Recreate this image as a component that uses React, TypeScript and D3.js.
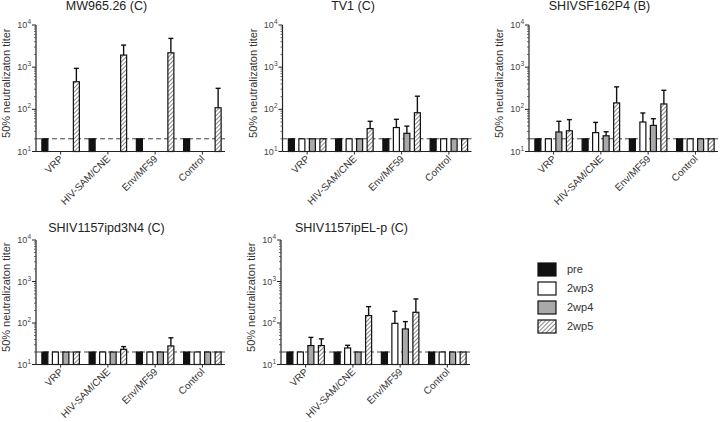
import React from "react";
import * as d3 from "d3";

const groups = ["VRP", "HIV-SAM/CNE", "Env/MF59", "Control"];
const seriesNames = ["pre", "2wp3", "2wp4", "2wp5"];
const yTickExps = [1, 2, 3, 4];
const cutoff = 20;
const yLabel = "50% neutralizaton titer";

// values[group][series]; null = not measured
const mwValues = [[20, null, null, 451], [20, null, null, 1935], [20, null, null, 2190], [20, null, null, 109]];
const mwErrors = [[null, null, null, 937], [null, null, null, 3340], [null, null, null, 4810], [null, null, null, 315]];

const tv1Values = [[20, 20, 20, 20], [20, 20, 20, 35], [20, 37, 27, 83], [20, 20, 20, 20]];
const tv1Errors = [[null, null, null, null], [null, null, null, 52], [null, 58, 40, 205], [null, null, null, null]];

const sf162Values = [[20, 20, 29, 31], [20, 28, 23.6, 142], [20, 50, 41.6, 134], [20, 20, 20, 20]];
const sf162Errors = [[null, null, 52, 57], [null, 49, 29.4, 341], [null, 82, 60, 283], [null, null, null, null]];

const ipd3Values = [[20, 20, 20, 20], [20, 20, 20, 23.2], [20, 20, 20, 28], [20, 20, 20, 20]];
const ipd3Errors = [[null, null, null, null], [null, null, null, 27], [null, null, null, 44], [null, null, null, null]];

const ipelValues = [[20, 20, 28.6, 28.6], [20, 25, 20, 151], [20, 98, 72, 181], [20, 20, 20, 20]];
const ipelErrors = [[null, null, 45, 41.5], [null, 29, null, 248], [null, 191, 108, 380], [null, null, null, null]];

const panels = [
  { title: "MW965.26 (C)", values: mwValues, errors: mwErrors, x0: 36, top: 25, base: 151.5, titleY: 10 },
  { title: "TV1 (C)", values: tv1Values, errors: tv1Errors, x0: 282.5, top: 25, base: 151.5, titleY: 10 },
  { title: "SHIVSF162P4 (B)", values: sf162Values, errors: sf162Errors, x0: 529, top: 25, base: 151.5, titleY: 10 },
  { title: "SHIV1157ipd3N4 (C)", values: ipd3Values, errors: ipd3Errors, x0: 36, top: 240, base: 364.5, titleY: 232 },
  { title: "SHIV1157ipEL-p (C)", values: ipelValues, errors: ipelErrors, x0: 281, top: 240, base: 364.5, titleY: 232 },
];

const FONT = "'Liberation Sans', Arial, Helvetica, sans-serif";
const PLOT_W = 189;
const slotOffsets = [-15.75, -5.25, 5.25, 15.75];
const BAR_W = 6;

function fillFor(s: number) {
  if (s === 0) return "#111";
  if (s === 1) return "#fff";
  if (s === 2) return "#a9a9a9";
  return "url(#hatch)";
}

function Panel({ p }: { p: typeof panels[number] }) {
  const y = d3.scaleLog().domain([10, 10000]).range([p.base, p.top]);
  const x = d3.scaleBand().domain(groups).range([p.x0 + 1, p.x0 + 1 + PLOT_W]).padding(0);
  const minor: number[] = [];
  for (let e = 1; e < 4; e++) for (let m = 2; m <= 9; m++) minor.push(m * Math.pow(10, e));
  const cx0 = p.x0 + PLOT_W / 2 - 24;
  const yMid = (p.top + p.base) / 2 - 5;
  return (
    <g>
      <text x={cx0} y={p.titleY} textAnchor="middle" fontSize={12.5} fill="#222" fontFamily={FONT}>{p.title}</text>
      <g transform={`translate(${p.x0 - 26},${yMid})`}>
        <text transform="rotate(-90)" textAnchor="middle" fontSize={11} fill="#333" fontFamily={FONT}>{yLabel}</text>
      </g>
      {/* dashed cutoff */}
      <line x1={p.x0} x2={p.x0 + PLOT_W} y1={y(cutoff)} y2={y(cutoff)} stroke="#444" strokeWidth={1} strokeDasharray="5,3" />
      {/* bars */}
      {groups.map((g, gi) => {
        const gc = (x(g) as number) + x.bandwidth() / 2;
        return (
          <g key={g}>
            {seriesNames.map((s, si) => {
              const v = p.values[gi][si];
              if (v == null) return null;
              const bc = gc + slotOffsets[si];
              const err = p.errors[gi][si];
              return (
                <g key={s}>
                  {err != null && (
                    <g stroke="#111" strokeWidth={1.4}>
                      <line x1={bc} x2={bc} y1={y(v)} y2={y(err)} />
                      <line x1={bc - 2.5} x2={bc + 2.5} y1={y(err)} y2={y(err)} />
                    </g>
                  )}
                  <rect x={bc - BAR_W / 2} y={y(v)} width={BAR_W} height={p.base - y(v)} fill={fillFor(si)} stroke="#111" strokeWidth={1.2} />
                </g>
              );
            })}
          </g>
        );
      })}
      {/* y axis */}
      <line x1={p.x0} x2={p.x0} y1={p.top} y2={p.base} stroke="#222" strokeWidth={1.2} />
      {minor.map((m) => (
        <line key={m} x1={p.x0 - 2} x2={p.x0} y1={y(m)} y2={y(m)} stroke="#444" strokeWidth={0.8} />
      ))}
      {yTickExps.map((e) => (
        <g key={e}>
          <line x1={p.x0 - 4} x2={p.x0} y1={y(Math.pow(10, e))} y2={y(Math.pow(10, e))} stroke="#222" strokeWidth={1} />
          <text x={p.x0 - 5} y={y(Math.pow(10, e)) + 3} textAnchor="end" fontSize={9} fill="#444" fontFamily={FONT}>
            10<tspan fontSize={6.5} dy={-4}>{e}</tspan>
          </text>
        </g>
      ))}
      {/* x axis */}
      <line x1={p.x0} x2={p.x0 + PLOT_W} y1={p.base} y2={p.base} stroke="#222" strokeWidth={1.2} />
      {groups.map((g) => {
        const gc = (x(g) as number) + x.bandwidth() / 2;
        return (
          <g key={g}>
            <line x1={gc} x2={gc} y1={p.base} y2={p.base + 3} stroke="#222" strokeWidth={1} />
            <g transform={`translate(${gc + 3},${p.base + 8})`}>
              <text transform="rotate(-45)" textAnchor="end" fontSize={10} fill="#333" fontFamily={FONT}>{g}</text>
            </g>
          </g>
        );
      })}
    </g>
  );
}

export default function App() {
  const legendX = 538;
  const legendY0 = 273;
  return (
    <svg width={720} height={422} style={{ position: "absolute", left: 0, top: 0, background: "#fff" }}>
      <defs>
        <pattern id="hatch" patternUnits="userSpaceOnUse" width={3} height={3} patternTransform="rotate(45)">
          <rect width={3} height={3} fill="#fff" />
          <line x1={0} y1={0} x2={0} y2={3} stroke="#555" strokeWidth={1.4} />
        </pattern>
      </defs>
      {panels.map((p) => <Panel key={p.title} p={p} />)}
      {seriesNames.map((s, i) => (
        <g key={s}>
          <rect x={legendX} y={legendY0 + i * 19 - 10} width={18} height={13} fill={fillFor(i)} stroke="#111" strokeWidth={1.2} />
          <text x={567} y={legendY0 + i * 19} fontSize={11} fill="#333" fontFamily={FONT}>{s}</text>
        </g>
      ))}
    </svg>
  );
}
